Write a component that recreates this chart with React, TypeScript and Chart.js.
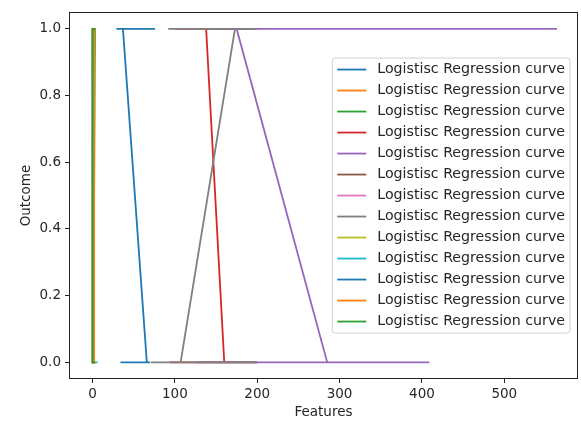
import React, { useEffect, useRef } from 'react';
import { Chart, registerables } from 'chart.js';

Chart.register(...registerables);

// ---------- data ----------
const SERIES_LABEL = 'Logistisc Regression curve';
const X_TITLE = 'Features';
const Y_TITLE = 'Outcome';
const X_TICKS = [0, 100, 200, 300, 400, 500];
const Y_TICKS = [0, 0.2, 0.4, 0.6, 0.8, 1.0];

const ageX = [29, 76, 37, 66, 34, 70];
const ageY = [1, 1, 1, 0, 0, 0];
const sexX = [0, 1, 1, 0];
const sexY = [1, 1, 0, 0];
const cpX = [0, 3, 1, 0, 3];
const cpY = [1, 1, 0, 0, 0];
const trestbpsX = [101, 192, 138, 160, 94, 200];
const trestbpsY = [1, 1, 1, 0, 0, 0];
const cholX = [141, 564, 175, 285, 126, 409];
const cholY = [1, 1, 1, 0, 0, 0];
const fbsX = [1, 0, 0, 1];
const fbsY = [1, 1, 0, 0];
const restecgX = [0, 2, 1, 0, 2];
const restecgY = [1, 1, 0, 0, 0];
const thalachX = [92, 200, 173, 107, 71, 200];
const thalachY = [1, 1, 1, 0, 0, 0];
const exangX = [0, 1, 1, 0, 1];
const exangY = [1, 1, 0, 0, 0];
const oldpeakX = [0, 4.2, 1.2, 1.4, 0, 6.2];
const oldpeakY = [1, 1, 1, 0, 0, 0];
const slopeX = [0, 2, 2, 0, 2];
const slopeY = [1, 1, 0, 0, 0];
const caX = [0, 4, 2, 2, 0, 4];
const caY = [1, 1, 1, 0, 0, 0];
const thalX = [1, 3, 0, 0, 3];
const thalY = [1, 1, 1, 0, 0];

const SERIES_X = [ageX, sexX, cpX, trestbpsX, cholX, fbsX, restecgX, thalachX, exangX, oldpeakX, slopeX, caX, thalX];
const SERIES_Y = [ageY, sexY, cpY, trestbpsY, cholY, fbsY, restecgY, thalachY, exangY, oldpeakY, slopeY, caY, thalY];

const COLORS = [
  '#1f77b4', '#ff7f0e', '#2ca02c', '#d62728', '#9467bd', '#8c564b', '#e377c2',
  '#7f7f7f', '#bcbd22', '#17becf', '#1f77b4', '#ff7f0e', '#2ca02c',
];

const FONT_FAMILY = '"DejaVu Sans", sans-serif';
const TEXT_COLOR = '#262626';

const framePlugin = {
  id: 'mplFrame',
  afterDatasetsDraw(chart: any) {
    const { ctx, chartArea } = chart;
    const l = Math.round(chartArea.left) + 0.5;
    const t = Math.round(chartArea.top) + 0.5;
    const r = Math.round(chartArea.right) - 0.5;
    const b = Math.round(chartArea.bottom) - 0.5;
    ctx.save();
    ctx.strokeStyle = '#222';
    ctx.lineWidth = 1;
    ctx.strokeRect(l, t, r - l, b - t);
    ctx.restore();
  },
};

const legendPlugin = {
  id: 'mplLegend',
  afterDraw(chart: any) {
    const { ctx, chartArea } = chart;
    const fontSize = 14.2;
    const rowH = 21;
    const pad = 5;
    const handle = 29;
    const gap = 11;
    const datasets = chart.data.datasets;
    ctx.save();
    ctx.font = `${fontSize}px ${FONT_FAMILY}`;
    const textW = Math.max(...datasets.map((d: any) => ctx.measureText(d.label).width));
    const w = pad + handle + gap + textW + pad;
    const h = datasets.length * rowH + 2;
    const right = chartArea.right - 8;
    const left = right - w;
    const top = (chartArea.top + chartArea.bottom) / 2 - h / 2;
    const rad = 3;
    ctx.beginPath();
    ctx.moveTo(left + rad, top);
    ctx.lineTo(right - rad, top);
    ctx.arcTo(right, top, right, top + rad, rad);
    ctx.lineTo(right, top + h - rad);
    ctx.arcTo(right, top + h, right - rad, top + h, rad);
    ctx.lineTo(left + rad, top + h);
    ctx.arcTo(left, top + h, left, top + h - rad, rad);
    ctx.lineTo(left, top + rad);
    ctx.arcTo(left, top, left + rad, top, rad);
    ctx.closePath();
    ctx.fillStyle = 'rgba(255,255,255,0.8)';
    ctx.fill();
    ctx.strokeStyle = '#d0d0d0';
    ctx.lineWidth = 1;
    ctx.stroke();
    datasets.forEach((d: any, i: number) => {
      const cy = top + 1 + rowH / 2 + i * rowH;
      ctx.beginPath();
      ctx.strokeStyle = d.borderColor;
      ctx.lineWidth = 1.8;
      ctx.moveTo(left + pad, cy);
      ctx.lineTo(left + pad + handle, cy);
      ctx.stroke();
      ctx.fillStyle = TEXT_COLOR;
      ctx.textBaseline = 'middle';
      ctx.textAlign = 'left';
      ctx.fillText(d.label, left + pad + handle + gap, cy);
    });
    ctx.restore();
  },
};

export default function App() {
  const ref = useRef<HTMLCanvasElement | null>(null);

  useEffect(() => {
    if (!ref.current) return;
    const font = { family: FONT_FAMILY, size: 13.5 };
    const n = SERIES_X.length;
    const datasets = SERIES_X.map((xs, i) => ({
      label: SERIES_LABEL,
      data: xs.map((x, j) => ({ x, y: SERIES_Y[i][j] })),
      borderColor: COLORS[i],
      backgroundColor: COLORS[i],
      borderWidth: 1.8,
      showLine: true,
      pointRadius: 0,
      pointHoverRadius: 0,
      fill: false,
      tension: 0,
      order: n - i,
    }));
    const chart = new Chart(ref.current, {
      type: 'scatter',
      data: { datasets },
      options: {
        animation: false,
        responsive: false,
        maintainAspectRatio: false,
        layout: { padding: { left: 18, right: 3, top: 7, bottom: 2 } },
        plugins: {
          legend: { display: false },
          tooltip: { enabled: false },
        },
        scales: {
          x: {
            type: 'linear',
            min: -28.5,
            max: 589.5,
            afterBuildTicks: (s: any) => {
              s.ticks = X_TICKS.map((v) => ({ value: v }));
            },
            afterFit: (s: any) => {
              s.height = 42;
            },
            ticks: {
              font,
              color: TEXT_COLOR,
              padding: 3,
              maxRotation: 0,
              autoSkip: false,
              callback: (v: any) => String(v),
            },
            grid: { drawOnChartArea: false, drawTicks: true, tickLength: 4, color: '#222' },
            border: { display: false },
            title: { display: true, text: X_TITLE, font, color: TEXT_COLOR, padding: { top: 0, bottom: 0 } },
          },
          y: {
            type: 'linear',
            min: -0.05,
            max: 1.05,
            afterBuildTicks: (s: any) => {
              s.ticks = Y_TICKS.map((v) => ({ value: v }));
            },
            afterFit: (s: any) => {
              s.width = 51;
            },
            ticks: {
              font,
              color: TEXT_COLOR,
              padding: 4,
              autoSkip: false,
              callback: (v: any) => Number(v).toFixed(1),
            },
            grid: { drawOnChartArea: false, drawTicks: true, tickLength: 4, color: '#222' },
            border: { display: false },
            title: { display: true, text: Y_TITLE, font, color: TEXT_COLOR, padding: { top: 0, bottom: 0 } },
          },
        },
      },
      plugins: [framePlugin, legendPlugin],
    } as any);
    return () => chart.destroy();
  }, []);

  return (
    <div style={{ position: 'fixed', left: 0, top: 0, width: 581, height: 423, background: '#fff' }}>
      <canvas ref={ref} width={581} height={423} style={{ display: 'block', width: 581, height: 423 }} />
    </div>
  );
}
